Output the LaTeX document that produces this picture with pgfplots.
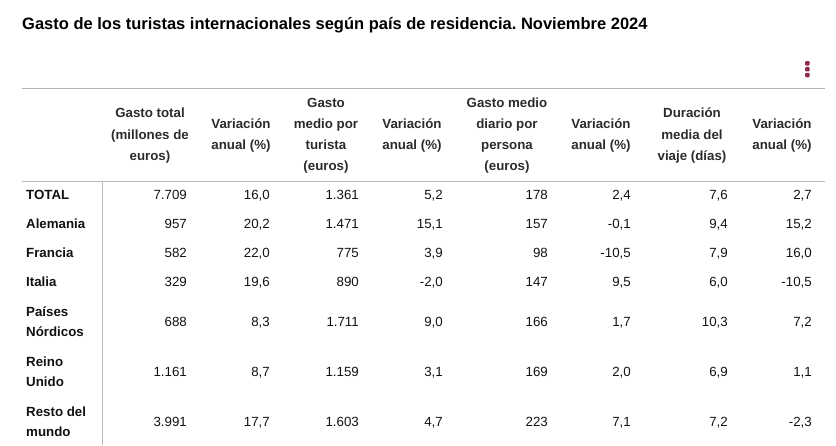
\documentclass[border=0pt]{standalone}
\usepackage{pgfplots}
\usepackage{pgfplotstable}
\usepackage{fontspec}
\setmainfont{Liberation Sans}
\pgfplotsset{compat=1.18}
\frenchspacing
\definecolor{hdr}{HTML}{2B2B2B}
\definecolor{body}{HTML}{111111}
\definecolor{ruleA}{HTML}{A9B4BB}
\definecolor{ruleB}{HTML}{BBBBBB}
\definecolor{icon}{HTML}{8B2A4B}

% row baseline y (px from top), then the eight columns
\pgfplotstableread{
y      c1    c2    c3    c4    c5    c6     c7    c8
199.7  7709  16.0  1361  5.2   178   2.4    7.6   2.7
228.7  957   20.2  1471  15.1  157   -0.1   9.4   15.2
257.7  582   22.0  775   3.9   98    -10.5  7.9   16.0
286.7  329   19.6  890   -2.0  147   9.5    6.0   -10.5
326.7  688   8.3   1711  9.0   166   1.7    10.3  7.2
376.7  1161  8.7   1159  3.1   169   2.0    6.9   1.1
426.7  3991  17.7  1603  4.7   223   7.1    7.2   -2.3
}\datatable

\newcommand{\bodyfont}{\fontsize{13.3}{15}\selectfont}
\newcommand{\hdrfont}{\bfseries\fontsize{13.3}{15}\selectfont}
\newcommand{\hl}[3]{\node[anchor=base, inner sep=0pt, font=\hdrfont, text=hdr] at (axis cs:#1,#2) {#3};}
\newcommand{\rl}[2]{\node[anchor=base west, inner sep=0pt, font=\hdrfont, text=body] at (axis cs:26,#1) {#2};}
\newcommand{\icondot}[1]{\fill[icon, rounded corners=1pt] (axis cs:805.1,#1) rectangle ++(axis direction cs:4.5,4.5);}

\begin{document}
\begin{tikzpicture}
\begin{axis}[
  hide axis, scale only axis,
  width=836pt, height=445pt,
  xmin=0, xmax=836, ymin=0, ymax=445,
  y dir=reverse, clip=false,
  /pgf/number format/assume math mode=true,
  every node near coord/.append style={anchor=base east, inner sep=0pt, font=\bodyfont, text=body},
  intcol/.style={draw=none, mark=none, nodes near coords, point meta=explicit,
     every node near coord/.append style={/pgf/number format/fixed, /pgf/number format/precision=0, /pgf/number format/use comma}},
  deccol/.style={draw=none, mark=none, nodes near coords, point meta=explicit,
     every node near coord/.append style={/pgf/number format/fixed, /pgf/number format/fixed zerofill, /pgf/number format/precision=1, /pgf/number format/use comma}},
]
\path (rel axis cs:0,0) rectangle (rel axis cs:1,1);

% rules
\addplot[ruleA, line width=1pt] coordinates {(22,88) (825,88)};
\addplot[ruleB, line width=1pt] coordinates {(22,181.5) (825,181.5)};
\addplot[ruleB, line width=1pt] coordinates {(102.3,181.5) (102.3,445)};

% title
\node[anchor=base west, inner sep=0pt, font=\bfseries\fontsize{16.5}{19}\selectfont] at (axis cs:22,29.5)
  {Gasto de los turistas internacionales según país de residencia. Noviembre 2024};

% menu icon
\icondot{61.0}
\icondot{66.9}
\icondot{72.8}

% header lines (baselines)
\hl{150}{117.7}{Gasto total}
\hl{150}{139.7}{(millones de}
\hl{150}{160.7}{euros)}
\hl{241}{128.7}{Variación}
\hl{241}{149.7}{anual (\%)}
\hl{326}{107.7}{Gasto}
\hl{326}{128.7}{medio por}
\hl{326}{149.7}{turista}
\hl{326}{170.7}{(euros)}
\hl{412}{128.7}{Variación}
\hl{412}{149.7}{anual (\%)}
\hl{507}{107.7}{Gasto medio}
\hl{507}{128.7}{diario por}
\hl{507}{149.7}{persona}
\hl{507}{170.7}{(euros)}
\hl{601}{128.7}{Variación}
\hl{601}{149.7}{anual (\%)}
\hl{692}{117.7}{Duración}
\hl{692}{139.7}{media del}
\hl{692}{160.7}{viaje (días)}
\hl{782}{128.7}{Variación}
\hl{782}{149.7}{anual (\%)}

% row labels (baselines)
\rl{199.7}{TOTAL}
\rl{228.7}{Alemania}
\rl{257.7}{Francia}
\rl{286.7}{Italia}
\rl{316.7}{Países}
\rl{336.7}{Nórdicos}
\rl{366.7}{Reino}
\rl{386.7}{Unido}
\rl{416.7}{Resto del}
\rl{436.7}{mundo}

% data columns
\addplot[intcol] table[x expr=187, y=y, meta=c1] {\datatable};
\addplot[deccol] table[x expr=270, y=y, meta=c2] {\datatable};
\addplot[intcol] table[x expr=359, y=y, meta=c3] {\datatable};
\addplot[deccol] table[x expr=443, y=y, meta=c4] {\datatable};
\addplot[intcol] table[x expr=548, y=y, meta=c5] {\datatable};
\addplot[deccol] table[x expr=631, y=y, meta=c6] {\datatable};
\addplot[deccol] table[x expr=728, y=y, meta=c7] {\datatable};
\addplot[deccol] table[x expr=812, y=y, meta=c8] {\datatable};
\end{axis}
\end{tikzpicture}
\end{document}
